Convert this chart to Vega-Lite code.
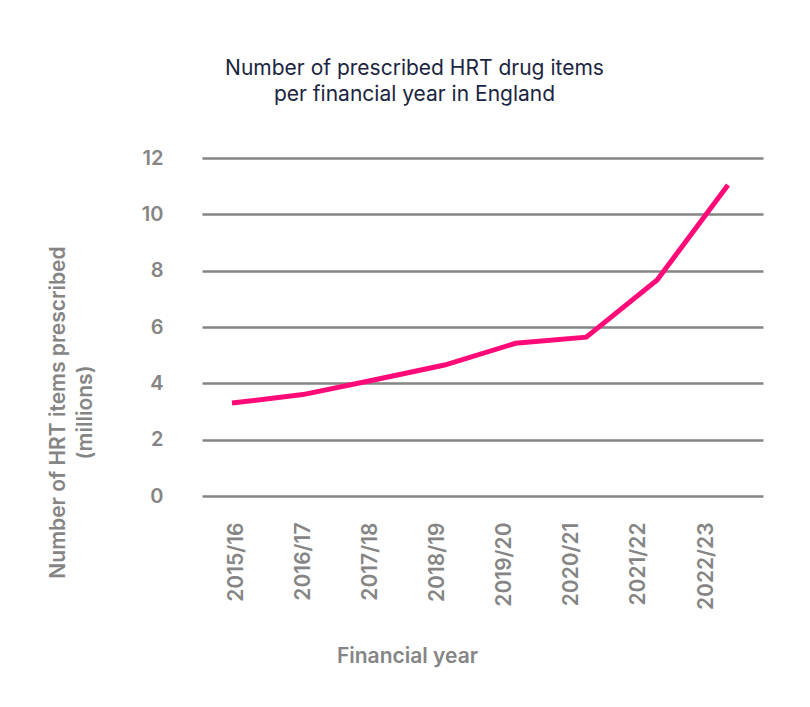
{
  "$schema": "https://vega.github.io/schema/vega-lite/v6.json",
  "autosize": "none",
  "width": 561,
  "height": 338,
  "padding": {"left": 202, "top": 158, "right": 47, "bottom": 211},
  "background": "white",
  "title": {
    "text": ["Number of prescribed HRT drug items", "per financial year in England"],
    "anchor": "middle",
    "frame": "group",
    "dx": -68,
    "offset": 43,
    "font": "Inter",
    "fontSize": 21,
    "fontWeight": 400,
    "lineHeight": 26,
    "color": "#1b2541"
  },
  "config": {
    "view": {"stroke": null},
    "axis": {
      "labelFont": "Inter",
      "titleFont": "Inter",
      "labelColor": "#858585",
      "titleColor": "#858585",
      "labelFontWeight": 600,
      "titleFontWeight": 600,
      "labelFontSize": 20,
      "titleFontSize": 21
    }
  },
  "data": {
    "values": [
      {"year": "2015/16", "items": 3.30},
      {"year": "2016/17", "items": 3.60},
      {"year": "2017/18", "items": 4.12},
      {"year": "2018/19", "items": 4.65},
      {"year": "2019/20", "items": 5.42},
      {"year": "2020/21", "items": 5.64},
      {"year": "2021/22", "items": 7.67},
      {"year": "2022/23", "items": 11.04}
    ]
  },
  "layer": [
    {
      "mark": {"type": "line", "color": "#ff0a78", "strokeWidth": 5},
      "encoding": {
        "x": {"field": "year", "type": "ordinal", "scale": {"type": "point", "padding": 0.4587, "align": 0.4615}, "axis": null},
        "y": {
          "field": "items",
          "type": "quantitative",
          "scale": {"domain": [0, 12]},
          "axis": {
            "values": [0, 2, 4, 6, 8, 10, 12],
            "domain": false,
            "ticks": false,
            "tickSize": 0,
            "labelPadding": 39,
            "grid": true,
            "gridColor": "#858585",
            "gridWidth": 2.5,
            "gridOpacity": 1,
            "title": ["Number of HRT items prescribed", "(millions)"],
            "titleLineHeight": 27,
            "titleAngle": -90,
            "titleAlign": "center",
            "titleBaseline": "middle",
            "titleX": -144,
            "titleY": 254
          }
        }
      }
    },
    {
      "mark": {"type": "point", "opacity": 0},
      "encoding": {
        "x": {
          "field": "year",
          "type": "ordinal",
          "scale": {"type": "point", "padding": 0.678, "align": 0.374},
          "axis": {
            "domain": false,
            "ticks": false,
            "tickSize": 0,
            "grid": false,
            "labelAngle": -90,
            "labelAlign": "right",
            "labelBaseline": "middle",
            "labelPadding": 26,
            "labelFontSize": 21,
            "title": "Financial year",
            "titleX": 205,
            "titleY": 160,
            "titleAlign": "center",
            "titleBaseline": "middle"
          }
        },
        "y": {"field": "items", "type": "quantitative"}
      }
    }
  ],
  "resolve": {"scale": {"x": "independent"}}
}
